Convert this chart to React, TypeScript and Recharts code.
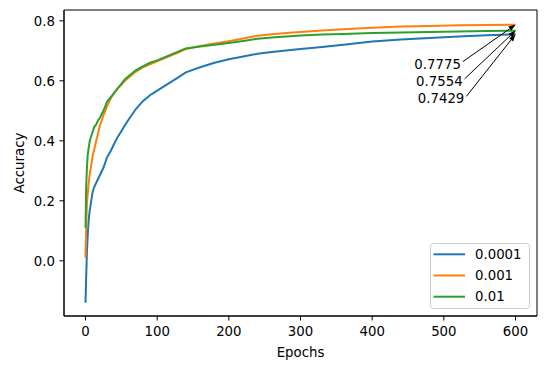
import React from 'react';
import { LineChart, Line, XAxis, YAxis, Legend, ReferenceArea, ReferenceLine } from 'recharts';

const epochs = [0, 1, 2, 3, 4, 5, 6, 8, 10, 12, 15, 18, 20, 25, 30, 35, 40, 45, 50, 55, 60, 70, 80, 90, 100, 110, 120, 130, 140, 160, 180, 200, 220, 240, 260, 280, 300, 330, 360, 400, 440, 480, 520, 560, 600];
const lr0001 = [-0.14, -0.05, 0.03, 0.08, 0.12, 0.15, 0.17, 0.2, 0.23, 0.245, 0.26, 0.275, 0.285, 0.31, 0.345, 0.365, 0.39, 0.413, 0.432, 0.452, 0.47, 0.505, 0.532, 0.552, 0.567, 0.582, 0.597, 0.612, 0.628, 0.645, 0.66, 0.672, 0.681, 0.69, 0.696, 0.701, 0.706, 0.713, 0.72, 0.731, 0.738, 0.743, 0.748, 0.752, 0.755];
const lr001 = [0.01, 0.12, 0.19, 0.22, 0.25, 0.27, 0.29, 0.32, 0.35, 0.37, 0.4, 0.43, 0.45, 0.485, 0.515, 0.54, 0.56, 0.575, 0.587, 0.6, 0.61, 0.63, 0.645, 0.655, 0.665, 0.675, 0.685, 0.695, 0.706, 0.716, 0.724, 0.732, 0.741, 0.75, 0.755, 0.759, 0.763, 0.768, 0.772, 0.777, 0.781, 0.783, 0.785, 0.786, 0.787];
const lr01 = [0.11, 0.25, 0.31, 0.35, 0.37, 0.385, 0.4, 0.415, 0.43, 0.445, 0.455, 0.47, 0.476, 0.5, 0.53, 0.545, 0.56, 0.575, 0.59, 0.605, 0.615, 0.635, 0.648, 0.66, 0.668, 0.678, 0.688, 0.698, 0.708, 0.714, 0.72, 0.726, 0.733, 0.74, 0.744, 0.748, 0.751, 0.754, 0.756, 0.759, 0.761, 0.763, 0.764, 0.766, 0.767];

const seriesNames = ['0.0001', '0.001', '0.01'];
const seriesColors = ['#1f77b4', '#ff7f0e', '#2ca02c'];

const xTicks = [0, 100, 200, 300, 400, 500, 600];
const yTicks = [0, 0.2, 0.4, 0.6, 0.8];
const xDomain = [-30, 630];
const yDomain = [-0.184, 0.836];

const annotationLabels = ['0.7775', '0.7554', '0.7429'];
const annotationTailX = [526.6, 529, 531.4];
const annotationTailY = [0.664, 0.6065, 0.548];
const annotationHeadX = [600, 600, 600];
const annotationHeadY = [lr001[lr001.length - 1], lr01[lr01.length - 1], lr0001[lr0001.length - 1]];

const data = epochs.map((e, i) => ({ epoch: e, a: lr0001[i], b: lr001[i], c: lr01[i] }));

const FONT = 'DejaVu Sans, sans-serif';
const FS = 13.3;

const makeArrow = (label: string) => (props: any) => {
  const { x1, y1, x2, y2 } = props;
  const dx = x2 - x1;
  const dy = y2 - y1;
  const len = Math.sqrt(dx * dx + dy * dy) || 1;
  const ux = dx / len;
  const uy = dy / len;
  const hl = 7;
  const hw = 2.6;
  const bx = x2 - ux * hl;
  const by = y2 - uy * hl;
  const pts = `${x2},${y2} ${bx - uy * hw},${by + ux * hw} ${bx + uy * hw},${by - ux * hw}`;
  return (
    <g>
      <line x1={x1} y1={y1} x2={bx} y2={by} stroke="#000" strokeWidth={1} />
      <polygon points={pts} fill="#000" />
      <text x={x1 - 2} y={y1 + 2.5} textAnchor="end" dominantBaseline="central" fontFamily={FONT} fontSize={FS} fill="#000">
        {label}
      </text>
    </g>
  );
};

const renderLegend = () => (
  <svg width={100} height={66} style={{ display: 'block' }}>
    <rect x={0.5} y={0.5} width={99} height={65} rx={3} ry={3} fill="rgba(255,255,255,0.8)" stroke="#cccccc" strokeWidth={1} />
    {seriesNames.map((n, i) => (
      <g key={n}>
        <line x1={3.5} x2={35} y1={11.3 + i * 21.2} y2={11.3 + i * 21.2} stroke={seriesColors[i]} strokeWidth={2} />
        <text x={45} y={11.3 + i * 21.2} dominantBaseline="central" fontFamily={FONT} fontSize={FS} fill="#000">
          {n}
        </text>
      </g>
    ))}
  </svg>
);

export default function App() {
  return (
    <div style={{ position: 'absolute', left: 0, top: 0 }}>
      <LineChart width={550} height={373} data={data} margin={{ top: 10, right: 13, left: 0, bottom: 0 }}>
        <XAxis
          dataKey="epoch"
          type="number"
          domain={xDomain}
          ticks={xTicks}
          height={57}
          allowDataOverflow
          tickSize={4.5}
          tickMargin={6}
          stroke="#000"
          tick={{ fill: '#000', fontFamily: FONT, fontSize: FS }}
          label={(p: any) => {
            const vb = p.viewBox;
            return (
              <text x={vb.x + vb.width / 2} y={352} textAnchor="middle" dominantBaseline="central" fontFamily={FONT} fontSize={FS} fill="#000">
                Epochs
              </text>
            );
          }}
        />
        <YAxis
          type="number"
          domain={yDomain}
          ticks={yTicks}
          width={64}
          allowDataOverflow
          tickSize={4.5}
          tickMargin={4.5}
          stroke="#000"
          tickFormatter={(v: number) => v.toFixed(1)}
          tick={{ fill: '#000', fontFamily: FONT, fontSize: FS }}
          label={(p: any) => {
            const vb = p.viewBox;
            const cy = vb.y + vb.height / 2;
            return (
              <text x={19} y={cy} transform={`rotate(-90 19 ${cy})`} textAnchor="middle" dominantBaseline="central" fontFamily={FONT} fontSize={FS} fill="#000">
                Accuracy
              </text>
            );
          }}
        />
        <ReferenceArea x1={xDomain[0]} x2={xDomain[1]} y1={yDomain[0]} y2={yDomain[1]} fill="none" stroke="#000" strokeWidth={1} ifOverflow="visible" />
        <Line dataKey="a" name={seriesNames[0]} stroke={seriesColors[0]} strokeWidth={2} dot={false} isAnimationActive={false} />
        <Line dataKey="b" name={seriesNames[1]} stroke={seriesColors[1]} strokeWidth={2} dot={false} isAnimationActive={false} />
        <Line dataKey="c" name={seriesNames[2]} stroke={seriesColors[2]} strokeWidth={2} dot={false} isAnimationActive={false} />
        {annotationLabels.map((lab, i) => (
          <ReferenceLine
            key={lab}
            segment={[
              { x: annotationTailX[i], y: annotationTailY[i] },
              { x: annotationHeadX[i], y: annotationHeadY[i] },
            ]}
            ifOverflow="visible"
            shape={makeArrow(lab)}
          />
        ))}
        <Legend
          layout="vertical"
          align="center"
          verticalAlign="middle"
          content={renderLegend}
          wrapperStyle={{ left: 430, top: 243, width: 100, height: 66, bottom: 'auto', right: 'auto' }}
        />
      </LineChart>
    </div>
  );
}
